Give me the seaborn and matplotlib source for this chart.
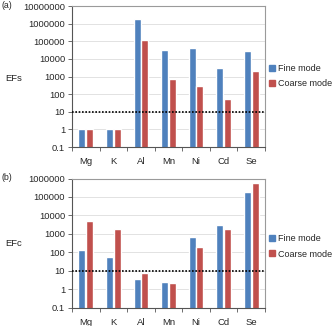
import matplotlib
matplotlib.use("Agg")
import matplotlib.pyplot as plt
import seaborn as sns
import pandas as pd
import numpy as np
from matplotlib.lines import Line2D

elements = ["Mg", "K", "Al", "Mn", "Ni", "Cd", "Se"]
modes = ["Fine mode", "Coarse mode"]
efs_fine = [1.0, 1.1, 1.9e6, 32000, 42000, 3000, 28000]
efs_coarse = [1.0, 1.0, 114000, 740, 300, 50, 2100]
efc_fine = [140, 58, 3.45, 2.5, 660, 2900, 186000]
efc_coarse = [5200, 1900, 7.3, 2.1, 186, 1900, 540000]
ylabels_a = ["0.1", "1", "10", "100", "1000", "10000", "100000", "1000000", "10000000"]
ylabels_b = ["0.1", "1", "10", "100", "1000", "10000", "100000", "1000000"]

colors = ["#4F81BD", "#C0504D"]

sns.set_theme(style="white")
plt.rcParams["font.family"] = ["Liberation Sans", "DejaVu Sans"]

fig = plt.figure(figsize=(3.34, 3.26), dpi=100)
W, H = 334, 326

def make_df(f, c):
    return pd.DataFrame({
        "element": elements * 2,
        "mode": [modes[0]] * len(elements) + [modes[1]] * len(elements),
        "value": list(f) + list(c),
    })

def panel(rect, f, c, labels, ylab, tag, ylab_y, tag_y, leg_y):
    ax = fig.add_axes(rect)
    df = make_df(f, c)
    sns.barplot(data=df, x="element", y="value", hue="mode", palette=colors,
                width=0.56, gap=0.08, ax=ax, legend=False, saturation=1)
    ax.set_yscale("log")
    ticks = [float(v) for v in labels]
    ax.set_ylim(ticks[0], ticks[-1])
    ax.set_yticks(ticks)
    ax.set_yticklabels(labels)
    ax.yaxis.set_minor_locator(matplotlib.ticker.NullLocator())
    ax.set_xlim(-0.5, len(elements) - 0.5)
    ax.grid(axis="y", color="#E2E2E2", linewidth=0.7)
    ax.set_axisbelow(True)
    ax.axhline(10, color="black", linestyle=(0, (1, 1)), linewidth=1.2, zorder=5)
    for s in ["top", "right"]:
        ax.spines[s].set_color("#9A9A9A")
        ax.spines[s].set_linewidth(0.8)
    for s in ["left", "bottom"]:
        ax.spines[s].set_color("#555555")
        ax.spines[s].set_linewidth(0.8)
    ax.tick_params(axis="y", which="major", left=True, length=3, width=0.6,
                   color="#555555", labelsize=6.7, pad=2)
    ax.set_xticks(range(len(elements)))
    ax.set_xticklabels(elements)
    ax.tick_params(axis="x", which="major", bottom=False, labelsize=6.8, pad=1.5)
    ax.set_xticks(np.arange(-0.5, len(elements) + 0.5, 1), minor=True)
    ax.tick_params(axis="x", which="minor", bottom=True, length=3, width=0.6, color="#555555")
    ax.set_xlabel("")
    ax.set_ylabel("")
    fig.text(14 / W, 1 - ylab_y / H, ylab, ha="center", va="center", fontsize=6.8)
    fig.text(1 / W, 1 - tag_y / H, tag, ha="left", va="center", fontsize=6.3)
    handles = [Line2D([], [], marker="s", linestyle="none", color=col, markersize=4) for col in colors]
    fig.legend(handles, modes, loc="center left", bbox_to_anchor=(264 / W, 1 - leg_y / H),
               frameon=False, fontsize=6.5, handletextpad=0.2, labelspacing=0.7,
               handlelength=1.0, borderaxespad=0)
    return ax

panel([72 / W, 1 - 147 / H, 193 / W, 141 / H], efs_fine, efs_coarse, ylabels_a,
      "EFs", "(a)", 79, 6, 76)
panel([72 / W, 1 - 307.5 / H, 193 / W, 129 / H], efc_fine, efc_coarse, ylabels_b,
      "EFc", "(b)", 244, 178, 246.5)

fig.savefig("out.png", dpi=100)
